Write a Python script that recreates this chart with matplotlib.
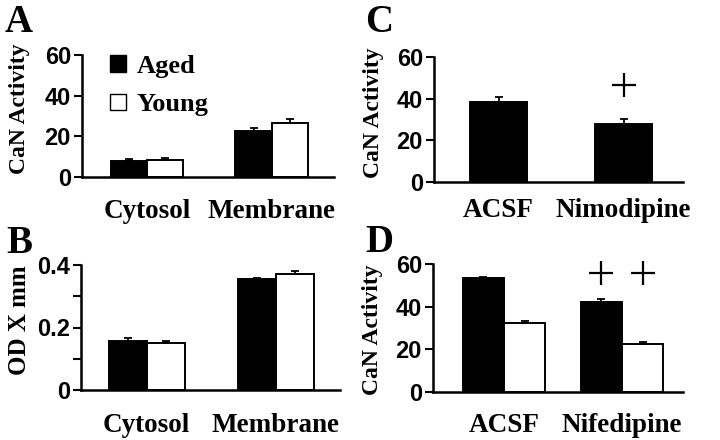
import matplotlib
matplotlib.use("Agg")
import matplotlib.pyplot as plt
import numpy as np
from matplotlib.patches import Patch

# panel A: CaN activity, cytosol vs membrane
fractions = ["Cytosol", "Membrane"]
a_aged = [8.0, 22.6]
a_aged_err = [0.8, 1.6]
a_young = [8.4, 26.4]
a_young_err = [1.1, 2.0]

# panel B: OD x mm
b_aged = [0.158, 0.355]
b_aged_err = [0.010, 0.005]
b_young = [0.149, 0.371]
b_young_err = [0.007, 0.011]

# panel C: nimodipine
c_conditions = ["ACSF", "Nimodipine"]
c_vals = [38.5, 27.8]
c_err = [2.1, 2.2]
c_sig = [False, True]
c_sig_level = 46.6

# panel D: nifedipine
d_conditions = ["ACSF", "Nifedipine"]
d_aged = [53.4, 42.2]
d_aged_err = [0.7, 1.5]
d_young = [32.3, 22.5]
d_young_err = [0.8, 0.9]
d_sig_aged = [False, True]
d_sig_young = [False, True]
d_sig_level = 56.0

SERIF = ["Liberation Serif", "Times New Roman", "DejaVu Serif"]
SANS = ["Liberation Sans", "Arial", "DejaVu Sans"]

W, H = 720, 440
fig = plt.figure(figsize=(W / 100, H / 100), dpi=100)


def px_axes(left, right, top, bottom):
    return fig.add_axes([left / W, 1 - bottom / H, (right - left) / W, (bottom - top) / H])


def style(ax, ylim, yticks, ylabels, xlim, cats, xpad):
    ax.set_ylim(*ylim)
    ax.set_xlim(*xlim)
    ax.set_yticks(yticks)
    ax.set_yticklabels(ylabels, family=SANS, fontweight="bold", fontsize=17)
    ax.set_xticks(range(len(cats)))
    ax.set_xticklabels(cats, family=SERIF, fontweight="bold", fontsize=19.5)
    ax.tick_params(axis="x", length=0, pad=xpad)
    ax.tick_params(axis="y", length=6, width=1.5, direction="out", pad=2)
    for s in ("top", "right"):
        ax.spines[s].set_visible(False)
    for s in ("left", "bottom"):
        ax.spines[s].set_linewidth(1.8)


def ylabel(text, px, py, size=17):
    fig.text(px / W, 1 - py / H, text, rotation=90, ha="center", va="center",
             family=SERIF, fontweight="bold", fontsize=size)


def bars(ax, x, vals, errs, width, face):
    ax.bar(x, vals, width, color=face, edgecolor="black", linewidth=1.4, zorder=2)
    ax.errorbar(x, vals, yerr=[np.zeros(len(errs)), errs], fmt="none", ecolor="black",
                elinewidth=1.3, capsize=3, capthick=1.3, zorder=3)


def plus(ax, xs, flags, level):
    for xi, s in zip(xs, flags):
        if s:
            ax.plot(xi, level, marker="+", ms=17, mew=1.6, color="black", clip_on=False)


x = np.arange(2)

# A
ax = px_axes(82, 334, 55, 177)
w = 0.29
bars(ax, x - w / 2, a_aged, a_aged_err, w, "black")
bars(ax, x + w / 2, a_young, a_young_err, w, "white")
style(ax, (0, 60), [0, 20, 40, 60], ["0", "20", "40", "60"], (-0.52, 1.5), fractions, 15.5)
ylabel("CaN Activity", 20, 109)
ax.legend(handles=[Patch(facecolor="black", edgecolor="black"),
                   Patch(facecolor="white", edgecolor="black")],
          labels=["Aged", "Young"], loc="upper left",
          bbox_to_anchor=((110 - 82) / 252, (177 - 55) / 122),
          frameon=False, borderpad=0, borderaxespad=0,
          handlelength=0.6, handleheight=0.6, handletextpad=0.4,
          labelspacing=0.58, prop={"family": SERIF, "weight": "bold", "size": 19})

# B
ax = px_axes(81, 340, 265, 390)
w = 0.295
bars(ax, x - w / 2, b_aged, b_aged_err, w, "black")
bars(ax, x + w / 2, b_young, b_young_err, w, "white")
style(ax, (0, 0.4), [0, 0.1, 0.2, 0.3, 0.4], ["0", "", "0.2", "", "0.4"], (-0.51, 1.5),
      fractions, 16.5)
ylabel("OD X mm", 20, 320, size=18)

# C
ax = px_axes(434, 683, 57, 182)
w = 0.456
bars(ax, x, c_vals, c_err, w, "black")
style(ax, (0, 60), [0, 20, 40, 60], ["0", "20", "40", "60"], (-0.516, 1.476), c_conditions, 11.3)
ylabel("CaN Activity", 373, 113)
plus(ax, x, c_sig, c_sig_level)

# D
ax = px_axes(433, 683, 264, 392)
w = 0.35
bars(ax, x - w / 2, d_aged, d_aged_err, w, "black")
bars(ax, x + w / 2, d_young, d_young_err, w, "white")
style(ax, (0, 60), [0, 20, 40, 60], ["0", "20", "40", "60"], (-0.6, 1.517), d_conditions, 15)
ylabel("CaN Activity", 372, 330)
plus(ax, x - w / 2, d_sig_aged, d_sig_level)
plus(ax, x + w / 2, d_sig_young, d_sig_level)

# panel letters
for letter, (px, py) in zip("ABCD", [(19, 23), (19, 243), (379, 23), (379, 242)]):
    fig.text(px / W, 1 - py / H, letter, family=SERIF, fontweight="bold", fontsize=28,
             ha="center", va="center")

fig.savefig("out.png", dpi=100)
